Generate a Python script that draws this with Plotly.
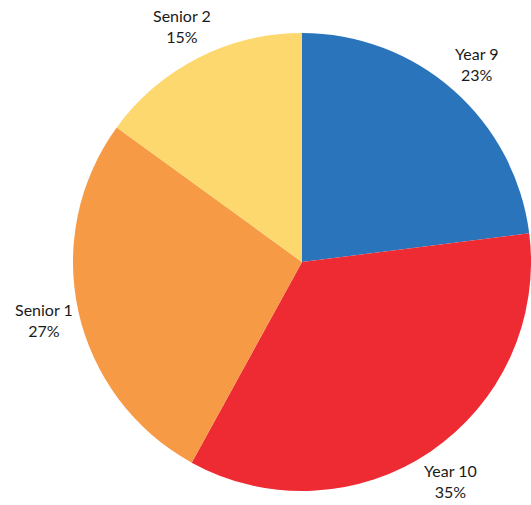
import math
import plotly.graph_objects as go

# Enrolment share by year group
groups = ["Year 9", "Year 10", "Senior 1", "Senior 2"]
shares = [23, 35, 27, 15]
colors = ["#2a74bb", "#ee2a32", "#f79a45", "#fdd86f"]

W, H = 531, 505
CX, CY, R = 302, 262, 229      # pie centre and radius in pixels (from top-left)
LABEL_R = 1.155                # label distance as a fraction of the radius

domain_x = [(CX - R) / W, (CX + R) / W]
domain_y = [1 - (CY + R) / H, 1 - (CY - R) / H]

fig = go.Figure(
    go.Pie(
        labels=groups,
        values=shares,
        sort=False,
        direction="clockwise",
        rotation=0,
        automargin=False,
        domain=dict(x=domain_x, y=domain_y),
        marker=dict(colors=colors, line=dict(width=0)),
        textinfo="none",
        showlegend=False,
        hoverinfo="label+percent",
    )
)

# Labels sit outside each slice along its mid-angle
total = sum(shares)
cum = 0
for name, val in zip(groups, shares):
    mid = (cum + val / 2) / total * 2 * math.pi   # clockwise from 12 o'clock
    cum += val
    px = CX + LABEL_R * R * math.sin(mid)
    py = CY - LABEL_R * R * math.cos(mid)
    fig.add_annotation(
        x=px / W,
        y=1 - py / H,
        xref="paper",
        yref="paper",
        text=f"{name}<br>{round(val / total * 100)}%",
        showarrow=False,
        xanchor="center",
        yanchor="middle",
        align="center",
        font=dict(family="Lato", size=16, color="#1a1a1a"),
    )

fig.update_layout(
    width=W,
    height=H,
    margin=dict(l=0, r=0, t=0, b=0),
    paper_bgcolor="white",
    plot_bgcolor="white",
)

fig.write_html("out.html")
